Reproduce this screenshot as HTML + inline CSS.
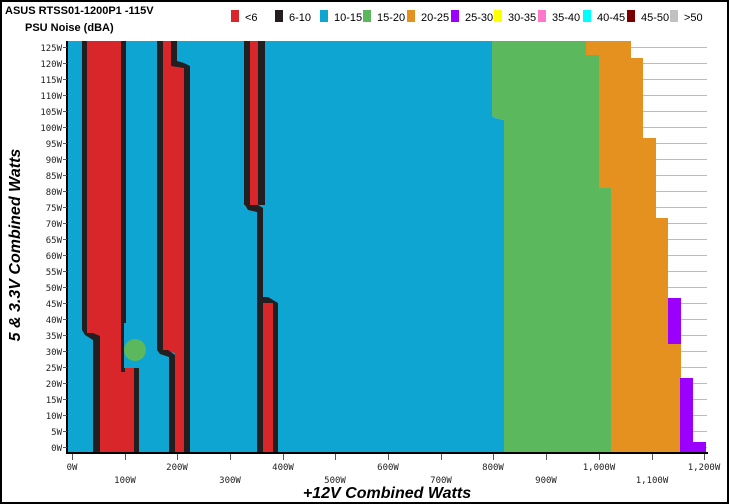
<!DOCTYPE html>
<html><head><meta charset="utf-8"><style>
body{margin:0;background:#fff}
svg{display:block;font-family:"Liberation Sans",sans-serif}
.t{font-family:"DejaVu Sans Mono","Liberation Mono",monospace;font-size:9px;fill:#222}
</style></head><body>
<svg width="729" height="504" viewBox="0 0 729 504">
<rect x="1" y="1" width="727" height="502" fill="#fff" stroke="#000" stroke-width="2"/>
<text x="5" y="14" font-size="11" font-weight="bold">ASUS RTSS01-1200P1 -115V</text>
<text x="25" y="31" font-size="11" font-weight="bold">PSU Noise (dBA)</text>
<g font-size="11">
<rect x="231" y="10" width="8" height="12" fill="#d9262b"/><text x="245" y="21">&lt;6</text>
<rect x="275" y="10" width="8" height="12" fill="#231f20"/><text x="289" y="21">6-10</text>
<rect x="320" y="10" width="8" height="12" fill="#0fa5d2"/><text x="334" y="21">10-15</text>
<rect x="363" y="10" width="8" height="12" fill="#5cb85c"/><text x="377" y="21">15-20</text>
<rect x="407" y="10" width="8" height="12" fill="#e59120"/><text x="421" y="21">20-25</text>
<rect x="451" y="10" width="8" height="12" fill="#9b00ff"/><text x="465" y="21">25-30</text>
<rect x="494" y="10" width="8" height="12" fill="#ffff00"/><text x="508" y="21">30-35</text>
<rect x="538" y="10" width="8" height="12" fill="#ff77cc"/><text x="552" y="21">35-40</text>
<rect x="583" y="10" width="8" height="12" fill="#00ffff"/><text x="597" y="21">40-45</text>
<rect x="627" y="10" width="8" height="12" fill="#7a0000"/><text x="641" y="21">45-50</text>
<rect x="670" y="10" width="8" height="12" fill="#c0c0c0"/><text x="684" y="21">&gt;50</text>
</g>
<g stroke="#bbb" stroke-width="1">
<line x1="67" x2="707" y1="47.5" y2="47.5"/><line x1="67" x2="707" y1="63.5" y2="63.5"/><line x1="67" x2="707" y1="79.5" y2="79.5"/><line x1="67" x2="707" y1="95.5" y2="95.5"/><line x1="67" x2="707" y1="111.5" y2="111.5"/><line x1="67" x2="707" y1="127.5" y2="127.5"/><line x1="67" x2="707" y1="143.5" y2="143.5"/><line x1="67" x2="707" y1="159.5" y2="159.5"/><line x1="67" x2="707" y1="175.5" y2="175.5"/><line x1="67" x2="707" y1="191.5" y2="191.5"/><line x1="67" x2="707" y1="207.5" y2="207.5"/><line x1="67" x2="707" y1="223.5" y2="223.5"/><line x1="67" x2="707" y1="239.5" y2="239.5"/><line x1="67" x2="707" y1="255.5" y2="255.5"/><line x1="67" x2="707" y1="271.5" y2="271.5"/><line x1="67" x2="707" y1="287.5" y2="287.5"/><line x1="67" x2="707" y1="303.5" y2="303.5"/><line x1="67" x2="707" y1="319.5" y2="319.5"/><line x1="67" x2="707" y1="335.5" y2="335.5"/><line x1="67" x2="707" y1="351.5" y2="351.5"/><line x1="67" x2="707" y1="367.5" y2="367.5"/><line x1="67" x2="707" y1="383.5" y2="383.5"/><line x1="67" x2="707" y1="399.5" y2="399.5"/><line x1="67" x2="707" y1="415.5" y2="415.5"/><line x1="67" x2="707" y1="431.5" y2="431.5"/><line x1="67" x2="707" y1="447.5" y2="447.5"/>
</g>
<polygon fill="#e59120" points="586,41 631,41 631,58 643,58 643,138 656,138 656,218 668,218 668,344 681,344 681,378 680,378 680,453 586,453"/>
<polygon fill="#9b00ff" points="668,298 681,298 681,344 668,344"/>
<polygon fill="#9b00ff" points="680,378 693,378 693,442 706,442 706,453 680,453"/>
<polygon fill="#5cb85c" points="492,41 586,41 586,55 599,55 599,188 611,188 611,453 504,453 504,120 495,118 492,116"/>
<polygon fill="#0fa5d2" points="67,41 492,41 492,116 495,118 504,120 504,453 67,453"/>
<!-- region 1 -->
<rect x="82" y="41" width="44" height="282" fill="#231f20"/>
<polygon fill="#d9262b" points="87,41 121,41 121,368 134,368 134,453 100,453 100,338 93,333 87,333"/>
<polygon fill="#231f20" points="82,323 87,323 87,333 93,333 100,336 100,453 93,453 93,340 85,335 82,330"/>
<rect x="121" y="323" width="3" height="45" fill="#231f20"/>
<rect x="134" y="368" width="5" height="85" fill="#231f20"/>
<rect x="121" y="368" width="4" height="4" fill="#231f20"/>
<circle cx="135" cy="350" r="11" fill="#5cb85c"/>
<!-- region 2 -->
<rect x="157" y="41" width="6" height="309" fill="#231f20"/>
<polygon fill="#d9262b" points="163,41 171,41 171,63 184,63 184,453 175,453 175,353 163,350"/>
<polygon fill="#231f20" points="171,41 177,41 177,61 184,63 190,66 190,453 184,453 184,68 171,66"/>
<polygon fill="#231f20" points="157,350 168,350 175,355 175,453 169,453 169,357 160,354"/>
<!-- region 3 -->
<rect x="244" y="41" width="6" height="164" fill="#231f20"/>
<rect x="250" y="41" width="8" height="164" fill="#d9262b"/>
<rect x="258" y="41" width="7" height="164" fill="#231f20"/>
<polygon fill="#231f20" points="245,205 258,205 263,208 263,297 268,297 273,300 278,303 278,453 257,453 257,212 248,210"/>
<rect x="263" y="303" width="10" height="150" fill="#d9262b"/>
<!-- axes -->
<rect x="66" y="41" width="2" height="413" fill="#000"/>
<rect x="66" y="452" width="642" height="2" fill="#000"/>
<g stroke="#555"><line x1="63" x2="67" y1="47.5" y2="47.5"/><line x1="63" x2="67" y1="63.5" y2="63.5"/><line x1="63" x2="67" y1="79.5" y2="79.5"/><line x1="63" x2="67" y1="95.5" y2="95.5"/><line x1="63" x2="67" y1="111.5" y2="111.5"/><line x1="63" x2="67" y1="127.5" y2="127.5"/><line x1="63" x2="67" y1="143.5" y2="143.5"/><line x1="63" x2="67" y1="159.5" y2="159.5"/><line x1="63" x2="67" y1="175.5" y2="175.5"/><line x1="63" x2="67" y1="191.5" y2="191.5"/><line x1="63" x2="67" y1="207.5" y2="207.5"/><line x1="63" x2="67" y1="223.5" y2="223.5"/><line x1="63" x2="67" y1="239.5" y2="239.5"/><line x1="63" x2="67" y1="255.5" y2="255.5"/><line x1="63" x2="67" y1="271.5" y2="271.5"/><line x1="63" x2="67" y1="287.5" y2="287.5"/><line x1="63" x2="67" y1="303.5" y2="303.5"/><line x1="63" x2="67" y1="319.5" y2="319.5"/><line x1="63" x2="67" y1="335.5" y2="335.5"/><line x1="63" x2="67" y1="351.5" y2="351.5"/><line x1="63" x2="67" y1="367.5" y2="367.5"/><line x1="63" x2="67" y1="383.5" y2="383.5"/><line x1="63" x2="67" y1="399.5" y2="399.5"/><line x1="63" x2="67" y1="415.5" y2="415.5"/><line x1="63" x2="67" y1="431.5" y2="431.5"/><line x1="63" x2="67" y1="447.5" y2="447.5"/>
<line x1="72.5" x2="72.5" y1="454" y2="460"/><line x1="125.5" x2="125.5" y1="454" y2="460"/><line x1="177.5" x2="177.5" y1="454" y2="460"/><line x1="230.5" x2="230.5" y1="454" y2="460"/><line x1="283.5" x2="283.5" y1="454" y2="460"/><line x1="335.5" x2="335.5" y1="454" y2="460"/><line x1="388.5" x2="388.5" y1="454" y2="460"/><line x1="441.5" x2="441.5" y1="454" y2="460"/><line x1="493.5" x2="493.5" y1="454" y2="460"/><line x1="546.5" x2="546.5" y1="454" y2="460"/><line x1="599.5" x2="599.5" y1="454" y2="460"/><line x1="652.5" x2="652.5" y1="454" y2="460"/><line x1="704.5" x2="704.5" y1="454" y2="460"/></g>
<g class="t" text-anchor="end">
<text x="62" y="51">125W</text><text x="62" y="67">120W</text><text x="62" y="83">115W</text><text x="62" y="99">110W</text><text x="62" y="115">105W</text><text x="62" y="131">100W</text><text x="62" y="147">95W</text><text x="62" y="163">90W</text><text x="62" y="179">85W</text><text x="62" y="195">80W</text><text x="62" y="211">75W</text><text x="62" y="227">70W</text><text x="62" y="243">65W</text><text x="62" y="259">60W</text><text x="62" y="275">55W</text><text x="62" y="291">50W</text><text x="62" y="307">45W</text><text x="62" y="323">40W</text><text x="62" y="339">35W</text><text x="62" y="355">30W</text><text x="62" y="371">25W</text><text x="62" y="387">20W</text><text x="62" y="403">15W</text><text x="62" y="419">10W</text><text x="62" y="435">5W</text><text x="62" y="451">0W</text>
</g>
<g class="t" text-anchor="middle">
<text x="72" y="470">0W</text><text x="177" y="470">200W</text><text x="283" y="470">400W</text><text x="388" y="470">600W</text><text x="493" y="470">800W</text><text x="599" y="470">1,000W</text><text x="704" y="470">1,200W</text>
<text x="125" y="483">100W</text><text x="230" y="483">300W</text><text x="335" y="483">500W</text><text x="441" y="483">700W</text><text x="546" y="483">900W</text><text x="652" y="483">1,100W</text>
</g>
<text x="387" y="498" font-size="16" font-weight="bold" font-style="italic" text-anchor="middle">+12V Combined Watts</text>
<text transform="translate(20,245) rotate(-90)" font-size="16" font-weight="bold" font-style="italic" text-anchor="middle">5 &amp; 3.3V Combined Watts</text>
</svg>
</body></html>
